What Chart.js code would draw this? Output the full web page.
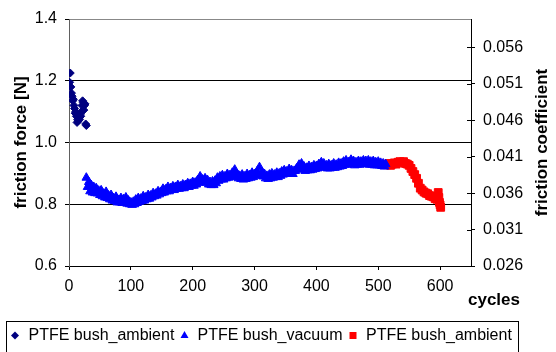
<!DOCTYPE html>
<html>
<head>
<meta charset="utf-8">
<title>PTFE bush friction</title>
<script src="https://cdn.jsdelivr.net/npm/chart.js@4.4.1/dist/chart.umd.min.js"></script>
<style>
  html, body { margin: 0; padding: 0; background: #fff; }
  canvas { display: block; }
</style>
</head>
<body>
<canvas id="frictionChart" width="556" height="352"></canvas>
<script>
// run-in in air, then vacuum, then back to air
var ambientCycles = [1, 2, 3, 4, 5, 6, 7, 8, 9, 10, 11, 12, 13, 14, 15, 16, 17, 18, 19, 20, 21, 22, 23, 24, 25, 26, 27, 28];
var ambientForce = [1.195, 1.225, 1.18, 1.16, 1.15, 1.135, 1.14, 1.12, 1.11, 1.095, 1.10, 1.085, 1.065, 1.075, 1.07, 1.08, 1.075, 1.09, 1.085, 1.10, 1.12, 1.135, 1.13, 1.105, 1.12, 1.125, 1.06, 1.055];

// vacuum run, logged every 2nd cycle from cycle 28
var vacuumFirstCycle = 28;
var vacuumCycleStep = 2;
var vacuumForce = [
  0.886, 0.856, 0.872, 0.842, 0.862, 0.838, 0.856, 0.836, 0.852, 0.835, 0.844, 0.830, 0.845, 0.826, 0.834, 0.822, 0.840, 0.820, 0.828, 0.816,
  0.830, 0.812, 0.820, 0.810, 0.824, 0.806, 0.814, 0.806, 0.820, 0.804, 0.816, 0.806, 0.822, 0.802, 0.812, 0.800, 0.806, 0.798, 0.808, 0.800,
  0.815, 0.804, 0.820, 0.808, 0.818, 0.810, 0.826, 0.812, 0.822, 0.816, 0.830, 0.818, 0.828, 0.822, 0.836, 0.826, 0.834, 0.828, 0.842, 0.832,
  0.840, 0.836, 0.850, 0.838, 0.848, 0.842, 0.856, 0.842, 0.852, 0.846, 0.858, 0.846, 0.856, 0.850, 0.862, 0.850, 0.858, 0.852, 0.864, 0.852,
  0.862, 0.856, 0.868, 0.856, 0.866, 0.860, 0.872, 0.860, 0.870, 0.864, 0.878, 0.870, 0.890, 0.872, 0.880, 0.870, 0.884, 0.870, 0.878, 0.864,
  0.872, 0.862, 0.874, 0.862, 0.876, 0.868, 0.886, 0.876, 0.890, 0.880, 0.894, 0.880, 0.890, 0.884, 0.898, 0.886, 0.894, 0.888, 0.902, 0.892,
  0.912, 0.890, 0.898, 0.884, 0.892, 0.882, 0.896, 0.880, 0.890, 0.882, 0.898, 0.884, 0.894, 0.886, 0.902, 0.888, 0.898, 0.892, 0.906, 0.896,
  0.920, 0.896, 0.904, 0.890, 0.898, 0.884, 0.892, 0.882, 0.896, 0.884, 0.900, 0.886, 0.896, 0.888, 0.902, 0.888, 0.900, 0.892, 0.906, 0.896,
  0.910, 0.898, 0.906, 0.900, 0.914, 0.900, 0.910, 0.898, 0.908, 0.908, 0.916, 0.912, 0.928, 0.916, 0.932, 0.914, 0.922, 0.908, 0.918, 0.910,
  0.924, 0.910, 0.920, 0.912, 0.926, 0.914, 0.924, 0.916, 0.930, 0.920, 0.936, 0.922, 0.932, 0.918, 0.926, 0.916, 0.930, 0.916, 0.926, 0.918,
  0.932, 0.918, 0.928, 0.920, 0.934, 0.922, 0.932, 0.924, 0.938, 0.928, 0.942, 0.928, 0.936, 0.930, 0.944, 0.930, 0.940, 0.926, 0.936, 0.928,
  0.940, 0.928, 0.938, 0.930, 0.942, 0.930, 0.940, 0.930, 0.942, 0.928, 0.938, 0.928, 0.940, 0.926, 0.936, 0.926, 0.938, 0.926, 0.934, 0.924,
  0.932, 0.922, 0.930];

var returnCycles = [514, 517, 520, 523, 526, 529, 532, 535, 538, 541, 544, 547, 550, 553, 556, 559, 562, 565, 568, 571,
  574, 577, 580, 583, 586, 589, 592, 595, 597, 598, 599, 600, 601];
var returnForce = [0.928, 0.932, 0.926, 0.930, 0.934, 0.930, 0.936, 0.938, 0.936, 0.938, 0.932, 0.930, 0.926, 0.916, 0.906, 0.896, 0.884, 0.868, 0.852, 0.846,
  0.840, 0.836, 0.834, 0.828, 0.826, 0.824, 0.818, 0.816, 0.838, 0.822, 0.806, 0.798, 0.790];

var seriesNames = ['PTFE bush_ambient', 'PTFE bush_vacuum', 'PTFE bush_ambient'];

var cycleTicks = [0, 100, 200, 300, 400, 500, 600];
var forceTicks = [0.6, 0.8, 1.0, 1.2, 1.4];
var coefTicks = [0.026, 0.031, 0.036, 0.041, 0.046, 0.051, 0.056];

var FONT = '"Liberation Sans", Arial, sans-serif';

var vacuumCycles = vacuumForce.map(function(_, i) { return vacuumFirstCycle + i * vacuumCycleStep; });

function toPoints(xs, ys) {
  return xs.map(function(x, i) { return { x: x, y: ys[i] }; });
}

function setTicks(values) {
  return function(scale) {
    scale.ticks = values.map(function(v) { return { value: v }; });
  };
}

function drawMarker(ctx, style, x, y, color) {
  ctx.fillStyle = color;
  ctx.beginPath();
  if (style === 'rectRot') {
    ctx.moveTo(x, y - 4); ctx.lineTo(x + 4, y); ctx.lineTo(x, y + 4); ctx.lineTo(x - 4, y);
  } else if (style === 'triangle') {
    ctx.moveTo(x, y - 4.5); ctx.lineTo(x + 4, y + 2.5); ctx.lineTo(x - 4, y + 2.5);
  } else {
    ctx.rect(x - 3.5, y - 3.5, 7, 7);
  }
  ctx.closePath();
  ctx.fill();
}

// secondary title, inner tick halves, x title and the boxed legend
var frictionDecor = {
  id: 'frictionDecor',
  afterDraw: function(chart) {
    var ctx = chart.ctx;
    var area = chart.chartArea;
    var y2 = chart.scales.y2;
    ctx.save();

    ctx.strokeStyle = '#000';
    ctx.lineWidth = 1;
    ctx.beginPath();
    y2.ticks.forEach(function(t) {
      var py = Math.round(y2.getPixelForValue(t.value)) + 0.5;
      ctx.moveTo(area.right - 4, py);
      ctx.lineTo(area.right, py);
    });
    ctx.stroke();

    ctx.fillStyle = '#000';
    ctx.font = 'bold 17px ' + FONT;
    ctx.textAlign = 'center';
    ctx.textBaseline = 'middle';
    ctx.save();
    ctx.translate(542, (area.top + area.bottom) / 2);
    ctx.rotate(-Math.PI / 2);
    ctx.fillText('friction coefficient', 0, 0);
    ctx.restore();

    ctx.textAlign = 'left';
    ctx.textBaseline = 'alphabetic';
    ctx.fillText('cycles', 468, 305);

    ctx.strokeRect(6.5, 321.5, 512, 40);
    var markX = [15, 184.5, 353];
    var textX = [28.5, 197.5, 366];
    ctx.font = '16px ' + FONT;
    ctx.textBaseline = 'middle';
    chart.data.datasets.forEach(function(ds, i) {
      drawMarker(ctx, ds.pointStyle, markX[i], 335.5, ds.backgroundColor);
      ctx.fillStyle = '#000';
      ctx.fillText(ds.label, textX[i], 336);
    });
    ctx.restore();
  }
};

document.addEventListener("DOMContentLoaded", function() {
  var ctx = document.getElementById("frictionChart").getContext("2d");
  var chart = new Chart(ctx, {
    type: "scatter",
    data: {
      datasets: [
        {
          label: seriesNames[0],
          data: toPoints(ambientCycles, ambientForce),
          pointStyle: 'rectRot',
          pointRadius: 4,
          backgroundColor: '#000080',
          borderColor: '#000080',
          borderWidth: 1,
          yAxisID: 'y'
        },
        {
          label: seriesNames[1],
          data: toPoints(vacuumCycles, vacuumForce),
          pointStyle: 'triangle',
          pointRadius: 5,
          backgroundColor: '#0000FF',
          borderColor: '#0000FF',
          borderWidth: 1,
          yAxisID: 'y'
        },
        {
          label: seriesNames[2],
          data: toPoints(returnCycles, returnForce),
          pointStyle: 'rect',
          pointRadius: 5.5,
          backgroundColor: '#FF0000',
          borderColor: '#FF0000',
          borderWidth: 1,
          yAxisID: 'y'
        }
      ]
    },
    options: {
      responsive: false,
      animation: false,
      events: [],
      layout: { padding: { top: 19, left: 0, right: 0, bottom: 46 } },
      plugins: {
        legend: { display: false },
        tooltip: { enabled: false }
      },
      scales: {
        x: {
          type: 'linear',
          min: 0,
          max: 650,
          afterBuildTicks: setTicks(cycleTicks),
          afterFit: function(scale) { scale.height = 40; },
          grid: { drawOnChartArea: false, drawTicks: true, tickLength: 4, tickColor: '#000' },
          border: { color: '#000', width: 1 },
          ticks: {
            color: '#000',
            padding: 7,
            maxRotation: 0,
            font: { family: FONT, size: 16 }
          }
        },
        y: {
          position: 'left',
          min: 0.6,
          max: 1.4,
          afterBuildTicks: setTicks(forceTicks),
          afterFit: function(scale) { scale.width = 69; },
          grid: {
            color: function(c) { return c.tick && c.tick.value === 1.4 ? '#888888' : '#000000'; },
            tickLength: 4,
            tickColor: '#000'
          },
          border: { color: '#606060', width: 1 },
          ticks: {
            color: '#000',
            padding: 8,
            font: { family: FONT, size: 16 },
            callback: function(v) { return Number(v).toFixed(1); }
          },
          title: {
            display: true,
            text: 'friction force [N]',
            color: '#000',
            font: { family: FONT, size: 17, weight: 'bold' },
            padding: { top: 11, bottom: 0 }
          }
        },
        y2: {
          position: 'right',
          min: 0.026,
          max: 0.0599,
          afterBuildTicks: setTicks(coefTicks),
          afterFit: function(scale) { scale.width = 85; },
          grid: { drawOnChartArea: false, tickLength: 4, tickColor: '#000' },
          border: { color: '#000', width: 1 },
          ticks: {
            color: '#000',
            padding: 8,
            font: { family: FONT, size: 16 },
            callback: function(v) { return Number(v).toFixed(3); }
          }
        }
      }
    },
    plugins: [frictionDecor]
  });
});
</script>
</body>
</html>
